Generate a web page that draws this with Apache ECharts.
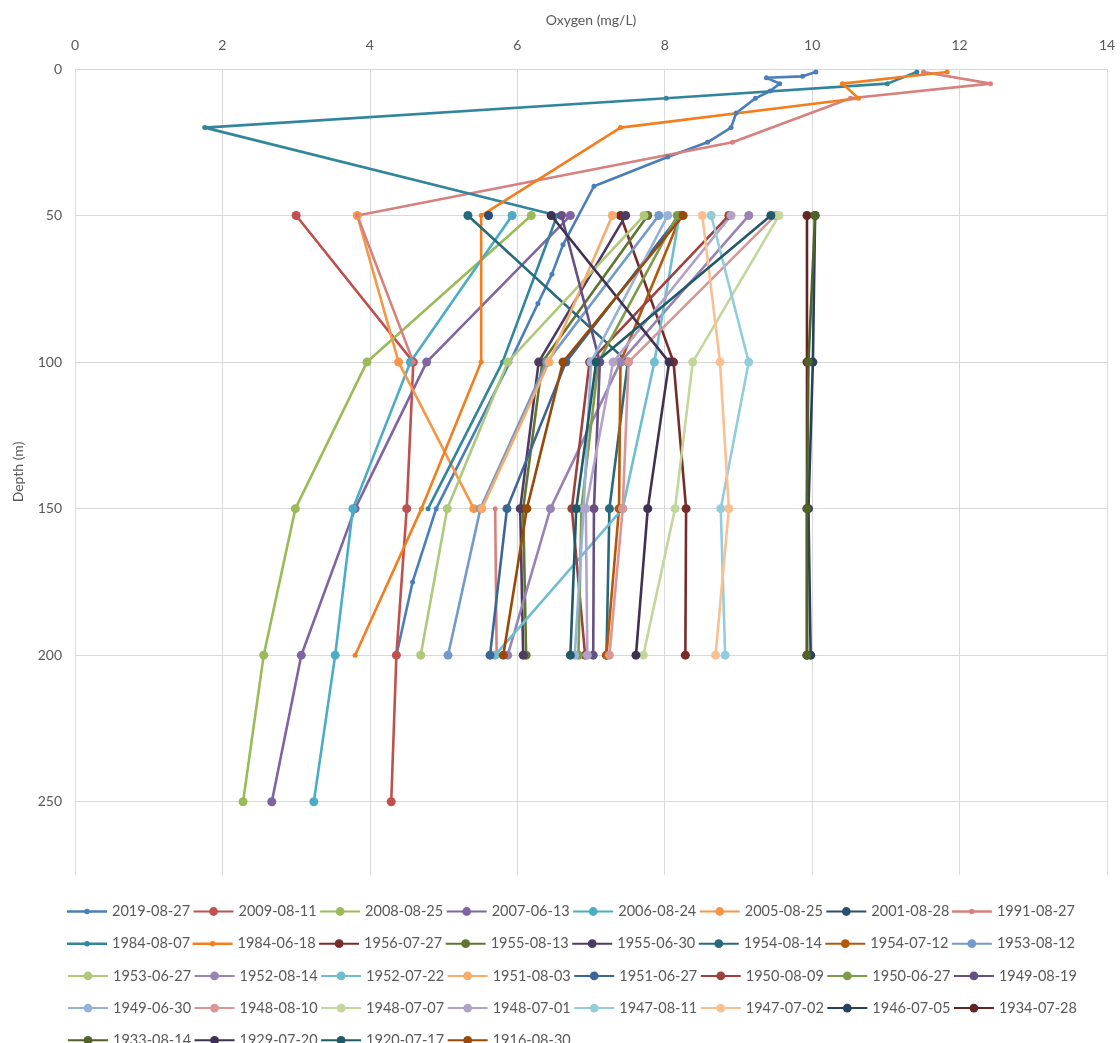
<!DOCTYPE html>
<html>
<head>
<meta charset="utf-8">
<script src="https://cdn.jsdelivr.net/npm/echarts@6/dist/echarts.min.js"></script>
<style>
html, body { margin: 0; padding: 0; background: #ffffff; }
#chart { width: 1120px; height: 1043px; }
</style>
</head>
<body>
<div id="chart"></div>
<script>
// Dissolved oxygen profiles (mg/L) against depth (m), one line per survey date.

// Standard sampling depths used by most surveys
const depthStd = [50, 100, 150, 200, 250];

// Detailed profiles with their own depths
const depth2019 = [1, 2.5, 3, 5, 7.5, 10, 15, 20, 25, 30, 40, 60, 70, 80, 100, 150, 175, 200];
const oxy2019 = [10.05, 9.87, 9.38, 9.56, 9.43, 9.23, 8.97, 8.90, 8.58, 8.04, 7.04, 6.62, 6.47, 6.28, 5.90, 4.90, 4.58, 4.36];

const depth1991 = [1, 5, 10, 25, 50, 100, 125, 150, 200];
const oxy1991 = [11.51, 12.42, 10.52, 8.92, 3.83, 4.59, null, 5.70, 5.72];

const depth1984a = [1, 5, 10, 20, 50, 100, 150];
const oxy1984a = [11.42, 11.02, 8.02, 1.76, 6.54, 5.80, 4.79];

const depth1984b = [1, 5, 10, 20, 50, 100, 150, 200];
const oxy1984b = [11.83, 10.41, 10.63, 7.40, 5.51, 5.51, 4.70, 3.80];

// Surveys at the standard depths (null = not sampled)
const oxy2009 = [3.00, 4.59, 4.50, 4.36, 4.29];
const oxy2008 = [6.19, 3.96, 2.99, 2.56, 2.28];
const oxy2007 = [6.72, 4.77, 3.80, 3.07, 2.67];
const oxy2006 = [5.93, 4.55, 3.77, 3.53, 3.24];
const oxy2005 = [3.83, 4.39, 5.41, null, null];
const oxy2001 = [5.61, null, null, null, null];
const oxy1956 = [7.40, 8.12, 8.29, 8.28, null];
const oxy1955b = [7.77, 6.34, 6.08, 6.12, null];
const oxy1955a = [7.47, 6.29, 6.04, 6.08, null];
const oxy1954b = [5.33, 7.50, 7.25, 7.21, null];
const oxy1954a = [8.22, 7.40, 7.38, 7.21, null];
const oxy1953b = [7.92, 6.40, 5.50, 5.06, null];
const oxy1953a = [7.72, 5.87, 5.05, 4.69, null];
const oxy1952b = [9.14, 7.40, 6.45, 5.87, null];
const oxy1952a = [8.20, 7.86, 7.43, 5.70, null];
const oxy1951b = [7.29, 6.43, 5.52, null, null];
const oxy1951a = [8.20, 6.66, 5.86, 5.63, null];
const oxy1950b = [8.87, 6.98, 6.74, 6.92, null];
const oxy1950a = [8.17, 7.10, 6.87, 6.83, null];
const oxy1949b = [6.60, 7.12, 7.04, 7.03, null];
const oxy1949a = [8.04, 7.00, 6.90, 6.78, null];
const oxy1948c = [9.50, 7.51, 7.43, 7.25, null];
const oxy1948b = [9.55, 8.38, 8.14, 7.71, null];
const oxy1948a = [8.90, 7.30, 6.93, 6.95, null];
const oxy1947b = [8.63, 9.14, 8.76, 8.82, null];
const oxy1947a = [8.51, 8.75, 8.87, 8.69, null];
const oxy1946 = [10.04, 10.01, 9.95, 9.98, null];
const oxy1934 = [9.93, 9.93, 9.93, 9.93, null];
const oxy1933 = [10.04, 9.95, 9.93, 9.93, null];
const oxy1929 = [6.46, 8.06, 7.77, 7.61, null];
const oxy1920 = [9.44, 7.07, 6.80, 6.72, null];
const oxy1916 = [8.25, 6.62, 6.13, 5.81, null];

// Axis ticks
const oxygenTicks = { min: 0, max: 14, step: 2 };
const depthTicks = { min: 0, max: 275, step: 50 };

// name, oxygen values, depths, colour, detailed profile (small markers)
const surveys = [
  ['2019-08-27', oxy2019, depth2019, '#4A7EBB', true],
  ['2009-08-11', oxy2009, depthStd, '#C0504D', false],
  ['2008-08-25', oxy2008, depthStd, '#9BBB59', false],
  ['2007-06-13', oxy2007, depthStd, '#8064A2', false],
  ['2006-08-24', oxy2006, depthStd, '#4BACC6', false],
  ['2005-08-25', oxy2005, depthStd, '#F79646', false],
  ['2001-08-28', oxy2001, depthStd, '#2C4D75', false],
  ['1991-08-27', oxy1991, depth1991, '#D7807D', true],
  ['1984-08-07', oxy1984a, depth1984a, '#31859C', true],
  ['1984-06-18', oxy1984b, depth1984b, '#F47D1E', true],
  ['1956-07-27', oxy1956, depthStd, '#772C2A', false],
  ['1955-08-13', oxy1955b, depthStd, '#5F7530', false],
  ['1955-06-30', oxy1955a, depthStd, '#4D3B62', false],
  ['1954-08-14', oxy1954b, depthStd, '#276A7C', false],
  ['1954-07-12', oxy1954a, depthStd, '#B65708', false],
  ['1953-08-12', oxy1953b, depthStd, '#729ACA', false],
  ['1953-06-27', oxy1953a, depthStd, '#AFC97A', false],
  ['1952-08-14', oxy1952b, depthStd, '#9983B5', false],
  ['1952-07-22', oxy1952a, depthStd, '#6FBDD1', false],
  ['1951-08-03', oxy1951b, depthStd, '#F9AB6B', false],
  ['1951-06-27', oxy1951a, depthStd, '#3C6696', false],
  ['1950-08-09', oxy1950b, depthStd, '#9D403E', false],
  ['1950-06-27', oxy1950a, depthStd, '#7E9B48', false],
  ['1949-08-19', oxy1949b, depthStd, '#664F83', false],
  ['1949-06-30', oxy1949a, depthStd, '#95B3D7', false],
  ['1948-08-10', oxy1948c, depthStd, '#D99694', false],
  ['1948-07-07', oxy1948b, depthStd, '#C3D69B', false],
  ['1948-07-01', oxy1948a, depthStd, '#B3A2C7', false],
  ['1947-08-11', oxy1947b, depthStd, '#93CDDD', false],
  ['1947-07-02', oxy1947a, depthStd, '#FAC090', false],
  ['1946-07-05', oxy1946, depthStd, '#254061', false],
  ['1934-07-28', oxy1934, depthStd, '#632523', false],
  ['1933-08-14', oxy1933, depthStd, '#4F6228', false],
  ['1929-07-20', oxy1929, depthStd, '#3F3151', false],
  ['1920-07-17', oxy1920, depthStd, '#215968', false],
  ['1916-08-30', oxy1916, depthStd, '#984807', false]
];

const labelColor = '#595959';
const gridColor = '#D9D9D9';
const fontFamily = 'Lato, "Open Sans", sans-serif';

// Legend key for the detailed profiles: line with a small dot
const smallDotIcon = 'path://M0,0 M40,11 M0,4.3 L40,4.3 L40,6.7 L0,6.7 Z ' +
  'M17.3,5.5 A2.7,2.7 0 1 1 22.7,5.5 A2.7,2.7 0 1 1 17.3,5.5 Z';

const series = surveys.map(([name, oxy, depths, color, detailed]) => ({
  name: name,
  type: 'line',
  data: depths.map((d, i) => (oxy[i] == null ? ['-', d] : [oxy[i], d])),
  connectNulls: false,
  symbol: 'circle',
  symbolSize: detailed ? 5 : 9,
  showSymbol: true,
  color: color,
  lineStyle: { width: 2.6, color: color },
  itemStyle: { color: color, borderWidth: 0 },
  emphasis: { disabled: true },
  animation: false
}));

// Legend laid out as rows of eight entries
const legendRows = [];
for (let r = 0; r * 8 < surveys.length; r++) {
  legendRows.push({
    data: surveys.slice(r * 8, r * 8 + 8).map(s => (
      s[4] ? { name: s[0], icon: smallDotIcon } : { name: s[0] }
    )),
    left: 62,
    top: 899 + r * 32.2,
    orient: 'horizontal',
    itemWidth: 40,
    itemHeight: 11,
    itemGap: 2.5,
    textStyle: { color: labelColor, fontSize: 14.5, fontFamily: fontFamily, width: 77 },
    selectedMode: false
  });
}

const chart = echarts.init(document.getElementById('chart'), null, { renderer: 'canvas' });
chart.setOption({
  animation: false,
  backgroundColor: '#ffffff',
  grid: { left: 75, right: 13, top: 69, bottom: 168, containLabel: false },
  xAxis: {
    type: 'value',
    position: 'top',
    min: oxygenTicks.min,
    max: oxygenTicks.max,
    interval: oxygenTicks.step,
    name: 'Oxygen (mg/L)',
    nameLocation: 'middle',
    nameGap: 42,
    nameTextStyle: { color: labelColor, fontSize: 14, fontFamily: fontFamily },
    axisLine: { show: false },
    axisTick: { show: false },
    axisLabel: { color: labelColor, fontSize: 14, fontFamily: fontFamily, margin: 17 },
    splitLine: { show: true, lineStyle: { color: gridColor, width: 1 } }
  },
  yAxis: {
    type: 'value',
    inverse: true,
    min: depthTicks.min,
    max: depthTicks.max,
    interval: depthTicks.step,
    name: 'Depth (m)',
    nameLocation: 'middle',
    nameGap: 50,
    nameRotate: 90,
    nameTextStyle: { color: labelColor, fontSize: 14, fontFamily: fontFamily },
    axisLine: { show: false },
    axisTick: { show: false },
    axisLabel: { color: labelColor, fontSize: 14, fontFamily: fontFamily, margin: 13, showMaxLabel: false },
    splitLine: { show: true, showMaxLine: false, lineStyle: { color: gridColor, width: 1 } }
  },
  legend: legendRows,
  series: series
});
</script>
</body>
</html>
